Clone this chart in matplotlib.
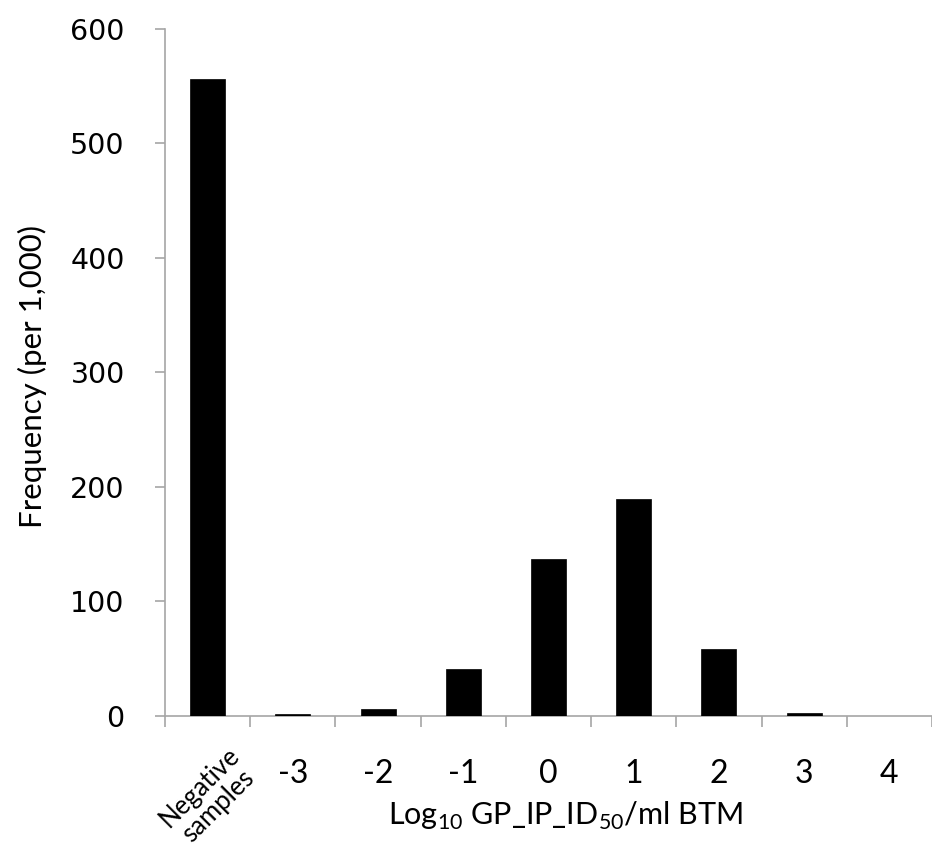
import matplotlib
matplotlib.use("Agg")
import matplotlib.pyplot as plt
import numpy as np

plt.rcParams["mathtext.fontset"] = "custom"
plt.rcParams["mathtext.rm"] = "Lato"

categories = ["Negative\nsamples", "-3", "-2", "-1", "0", "1", "2", "3", "4"]
frequency = [556, 1.5, 5.6, 41, 137, 189, 58, 2.6, 0]
y_ticks = [0, 100, 200, 300, 400, 500, 600]

fig = plt.figure(figsize=(9.32, 8.56), dpi=100)
ax = fig.add_axes([165/932, 140.3/856, 1 - 165/932, (715.7-28.8)/856])

x = np.arange(len(categories))
ax.bar(x, frequency, width=0.41, color="black", edgecolor="black", linewidth=0.5, zorder=3)

ax.set_xlim(-0.5, -0.5 + 768/86.7)
ax.set_ylim(0, 600)

spine_col = "#a6a6a6"
for s in ["top", "right"]:
    ax.spines[s].set_visible(False)
for s in ["left", "bottom"]:
    ax.spines[s].set_color(spine_col)
    ax.spines[s].set_linewidth(1.2)

ax.set_yticks(y_ticks)
ax.set_yticklabels([str(v) for v in y_ticks], fontsize=20.5, family="DejaVu Sans")
ax.tick_params(axis="y", direction="out", length=7, width=1.2, color=spine_col, pad=22)

# boundary ticks (major) and category labels (minor)
ax.set_xticks(np.arange(-0.5, len(categories) + 0.5, 1.0))
ax.set_xticklabels([])
ax.tick_params(axis="x", which="major", direction="out", length=8, width=1.2, color=spine_col)
ax.set_xticks(x[1:], minor=True)
ax.set_xticklabels(categories[1:], minor=True, fontsize=23, family="Lato")
ax.tick_params(axis="x", which="minor", length=0, pad=31)

ax.text(0.02, -0.118, categories[0], transform=ax.get_xaxis_transform(), rotation=45,
        ha="center", va="center", rotation_mode="anchor", fontsize=18.5, family="Lato",
        linespacing=1.05)

ax.text(0.522, -0.146, r"Log$_{10}$ GP_IP_ID$_{50}$/ml BTM", transform=ax.transAxes,
        ha="center", va="center", fontsize=22, family="Lato")

fig.text(32/932, 1 - 377/856, "Frequency (per 1,000)", rotation=90, ha="center", va="center",
         fontsize=22.5, family="Lato")

fig.savefig("out.png", dpi=100)
